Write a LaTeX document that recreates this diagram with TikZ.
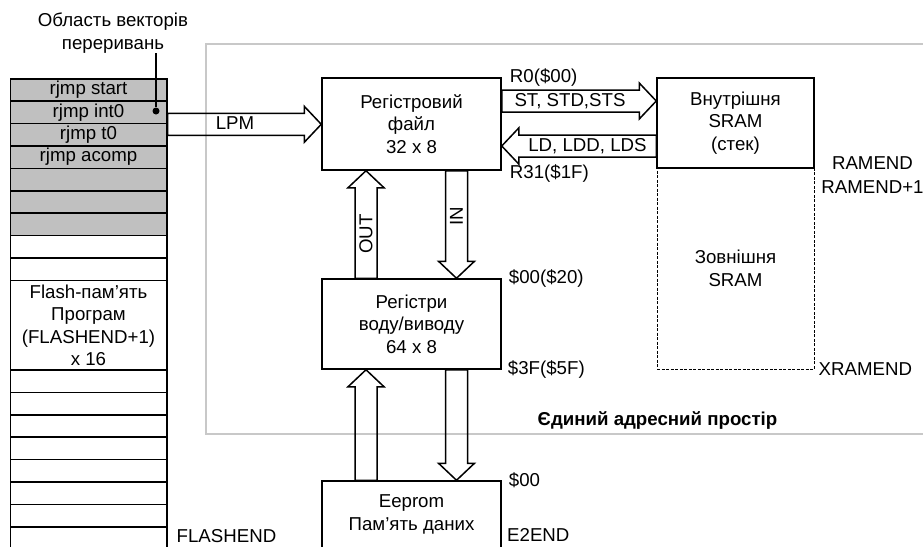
\documentclass[tikz,border=0pt]{standalone}
\usepackage{fontspec}
\setmainfont{Liberation Sans}
\usepackage{xcolor}
\usetikzlibrary{calc,positioning}
\definecolor{vecgray}{RGB}{192,192,192}
\definecolor{framegray}{RGB}{200,200,200}
\tikzset{
  memblock/.style = {
    rectangle,
    draw,
    line width=1.5pt,
    align=center,
    inner sep=0pt,
    minimum width=179pt,
    minimum height=90pt
  },
  flashcell/.style = {
    rectangle,
    draw,
    line width=1.5pt,
    anchor=north west,
    inner sep=0pt,
    minimum width=156.5pt,
    minimum height=22.4pt
  },
  addr/.style = {
    inner sep=0pt
  },
  hblock/.style = {
    line width=1.5pt,
    to path = {
      let \p1 = (\tikztostart), \p2 = (\tikztotarget),
          \n1 = {ifthenelse(\x2>\x1,17,-17)} in
      (\x1,\y1+11pt) -- (\x2-\n1,\y1+11pt) -- (\x2-\n1,\y1+18pt)
      -- (\x2,\y1) -- (\x2-\n1,\y1-18pt) -- (\x2-\n1,\y1-11pt)
      -- (\x1,\y1-11pt) -- cycle
    }
  },
  vblock/.style = {
    line width=1.5pt,
    to path = {
      let \p1 = (\tikztostart), \p2 = (\tikztotarget),
          \n1 = {ifthenelse(\y2>\y1,17,-17)} in
      (\x1-11pt,\y1) -- (\x1-11pt,\y2-\n1) -- (\x1-18pt,\y2-\n1)
      -- (\x1,\y2) -- (\x1+18pt,\y2-\n1) -- (\x1+11pt,\y2-\n1)
      -- (\x1+11pt,\y1) -- cycle
    }
  }
}

\begin{document}
\begin{tikzpicture}[x=1pt, y=-1pt, font=\fontsize{18.67}{22.5}\selectfont]
    \useasboundingbox (0,0) rectangle (923,546);
    % address space frame
    \draw[framegray, line width=1.6pt] (206,44) rectangle (960,434);
    \node[font=\fontsize{18.67}{22.5}\selectfont\bfseries] (spacelbl) at (657.5,420) {Єдиний адресний простір};
    % flash memory
    \foreach \i/\txt in {0/rjmp start,1/rjmp int0,2/rjmp t0,3/rjmp acomp,4/,5/,6/}
      \node[flashcell, fill=vecgray] (row\i) at (9.5,{78+22.4*\i}) {\txt};
    \foreach \i in {7,8,13,14,...,20}
      \node[flashcell] (row\i) at (9.5,{78+22.4*\i}) {};
    \node[flashcell, align=center, minimum height=89.6pt] (flash) at (9.5,279.6) {Flash-пам’ять\\Програм\\(FLASHEND+1)\\x 16};
    \node[addr, right=9pt of row20.east, yshift=2pt] (flashend) {FLASHEND};
    \node[align=center, inner sep=0pt] (vectitle) at (113,33) {Область векторів\\переривань};
    \node[circle, fill, inner sep=0pt, minimum size=7pt] (vecdot) at (156,111) {};
    \draw[line width=1.5pt] (vectitle.south -| vecdot) -- (vecdot);
    % register file and SRAM
    \node[memblock, minimum height=92pt] (regfile) at (411.5,124) {Регістровий\\файл\\32 x 8};
    \node[memblock, dashed, dash pattern=on 3pt off 1.5pt, line width=0.9pt, minimum width=157pt, minimum height=201pt] (xsram) at (735.5,268.5) {Зовнішня\\SRAM};
    \node[memblock, fill=white, minimum width=157pt] (sram) at (735.5,123) {Внутрішня\\SRAM\\(стек)};
    \node[addr, right=8pt of regfile.north east] (r0) {R0(\$00)};
    \node[addr, right=8pt of regfile.south east, yshift=-3pt] (r31) {R31(\$1F)};
    \node[addr, align=center] (ramend) at (872.5,175) {RAMEND\\[1.5pt]RAMEND+1};
    \node[addr, right=4pt of xsram.south east] (xramend) {XRAMEND};
    % I/O registers and EEPROM
    \node[memblock] (io) at (411.5,324) {Регістри\\воду/виводу\\64 x 8};
    \node[memblock, minimum height=67pt] (eeprom) at (411.5,514.5) {Eeprom\\Пам’ять даних};
    \node[addr, right=7pt of io.north east] (io00) {\$00(\$20)};
    \node[addr, right=6pt of io.south east] (io3f) {\$3F(\$5F)};
    \node[addr, right=7pt of eeprom.north east] (ee00) {\$00};
    \node[addr, anchor=west] (e2end) at (507,535) {E2END};
    % buses
    \draw[hblock] (row1.south east) to (regfile.west);
    \node (lpm) at (235,123) {LPM};
    \draw[hblock] ([yshift=23pt]regfile.east) to (sram.west);
    \node (stlbl) at (570,101) {ST, STD,STS};
    \draw[hblock] ([yshift=-23pt]sram.west) to (regfile.east);
    \node (ldlbl) at (587.5,146) {LD, LDD, LDS};
    \draw[vblock] ([xshift=-45.5pt]io.north) to (regfile.south);
    \node[rotate=90] (outlbl) at (366,234) {OUT};
    \draw[vblock] ([xshift=45pt]regfile.south) to (io.north);
    \node[rotate=90] (inlbl) at (456.5,216) {IN};
    \draw[vblock] ([xshift=-45.5pt]eeprom.north) to (io.south);
    \draw[vblock] ([xshift=45pt]io.south) to (eeprom.north);
\end{tikzpicture}
\end{document}
